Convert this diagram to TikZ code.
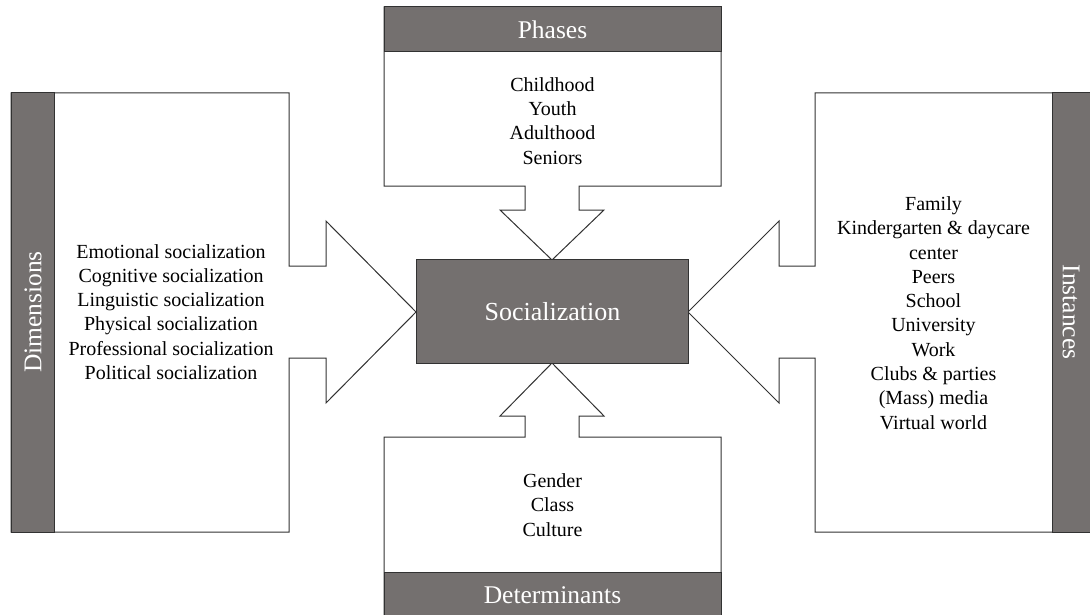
\documentclass[tikz,border=0pt]{standalone}
\usepackage{fontspec}
\setmainfont{Liberation Serif}
\definecolor{hdr}{RGB}{116,112,111}
\definecolor{edge}{RGB}{50,50,50}
\tikzset{
  shapeline/.style={draw=edge, line width=1pt, fill=white, line join=miter},
  hdrbox/.style={draw=edge, line width=1pt, fill=hdr},
  listtext/.style={align=center, font=\fontsize{20}{24.3}\selectfont, text=black, inner sep=0pt},
  hdrtext/.style={font=\fontsize{25.5}{30}\selectfont, text=white, inner sep=0pt},
}
\begin{document}
\begin{tikzpicture}[x=1pt,y=-1pt]
\useasboundingbox (0,0) rectangle (1090,615);
% left: Dimensions
\draw[shapeline] (11,93) -- (289,93) -- (289,266) -- (326,266) -- (326,221) -- (416,312)
  -- (326,403) -- (326,358) -- (289,358) -- (289,532) -- (11,532) -- cycle;
\draw[hdrbox] (11,93) rectangle (54,532);
\node[hdrtext, rotate=90] (dimh) at (33,312) {Dimensions};
\node[listtext] (diml) at (171,312) {Emotional socialization\\Cognitive socialization\\Linguistic socialization\\Physical socialization\\Professional socialization\\Political socialization};
% right: Instances
\draw[shapeline] (1091,93) -- (815,93) -- (815,266) -- (779,266) -- (779,221) -- (688,312)
  -- (779,403) -- (779,358) -- (815,358) -- (815,532) -- (1091,532);
\draw[hdrbox] (1091,93) -- (1052,93) -- (1052,532) -- (1091,532);
\node[hdrtext, rotate=-90] (insth) at (1071,312) {Instances};
\node[listtext] (instl) at (933.5,313) {Family\\Kindergarten \& daycare\\center\\Peers\\School\\University\\Work\\Clubs \& parties\\(Mass) media\\Virtual world};
% top: Phases
\draw[shapeline] (384,7) -- (721,7) -- (721,186) -- (579,186) -- (579,210) -- (604,210) -- (552,260)
  -- (500,210) -- (525,210) -- (525,186) -- (384,186) -- cycle;
\draw[hdrbox] (384,7) rectangle (721,52);
\node[hdrtext] (phh) at (552.5,30) {Phases};
\node[listtext] (phl) at (552.5,121) {Childhood\\Youth\\Adulthood\\Seniors};
% bottom: Determinants
\draw[shapeline] (384,616) -- (384,437) -- (525,437) -- (525,416) -- (500,416) -- (552,363)
  -- (604,416) -- (579,416) -- (579,437) -- (721,437) -- (721,616);
\draw[hdrbox] (384,616) -- (384,572) -- (721,572) -- (721,616);
\node[hdrtext] (deth) at (552.5,595) {Determinants};
\node[listtext] (detl) at (552.5,505) {Gender\\Class\\Culture};
% center
\node[hdrbox, minimum width=272pt, minimum height=104pt, inner sep=0pt, anchor=north west] (soc) at (416,259) {};
\node[hdrtext, font=\fontsize{26}{30}\selectfont] (soct) at (soc.center) {Socialization};
\end{tikzpicture}
\end{document}
